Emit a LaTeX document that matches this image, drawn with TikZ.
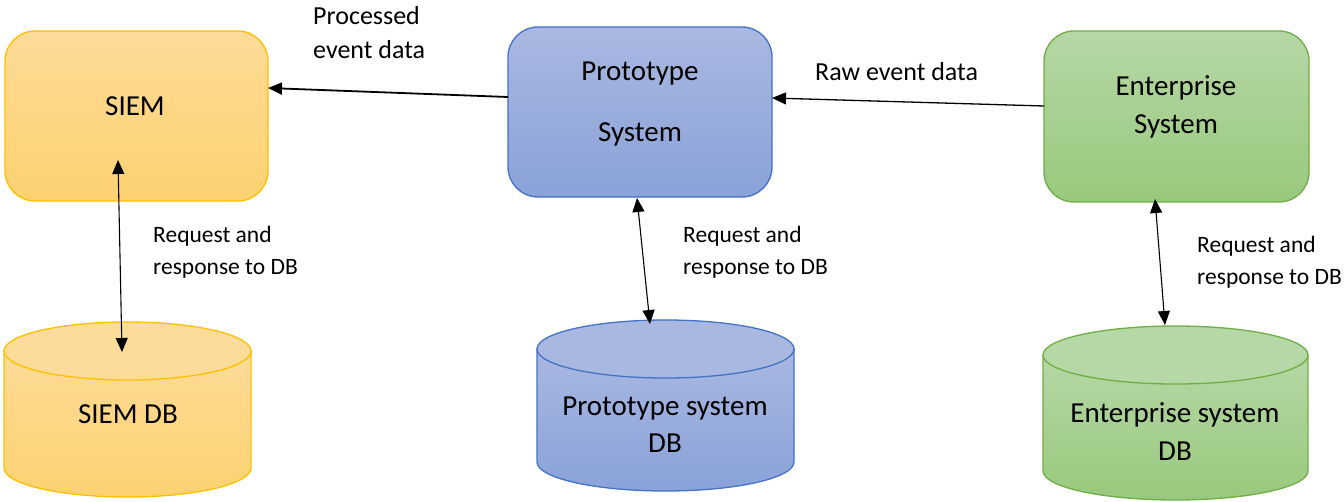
\documentclass[tikz,border=0pt]{standalone}
\usepackage{fontspec}
\setmainfont{Carlito}
\usetikzlibrary{arrows.meta,calc}
\definecolor{siemT}{RGB}{253,219,152}
\definecolor{siemB}{RGB}{252,210,112}
\definecolor{siemL}{RGB}{255,192,0}
\definecolor{protT}{RGB}{169,184,225}
\definecolor{protB}{RGB}{138,162,216}
\definecolor{protL}{RGB}{68,114,196}
\definecolor{entT}{RGB}{182,215,166}
\definecolor{entB}{RGB}{152,201,124}
\definecolor{entL}{RGB}{112,173,71}
\tikzset{
  sysbox/.style={draw=#1L, line width=1.3pt, rounded corners=30pt, top color=#1T, bottom color=#1B, inner sep=0pt},
  bigtxt/.style={font=\fontsize{29}{38}\selectfont, align=center, inner sep=0pt},
  lbltxt/.style={font=\fontsize{23.5}{32}\selectfont, align=left, inner sep=0pt, anchor=west},
  arr/.style={-{Triangle[length=14pt,width=12pt]}, line width=1.8pt},
  darr/.style={{Triangle[length=14pt,width=12pt]}-{Triangle[length=14pt,width=12pt]}, line width=1.1pt},
}
\begin{document}
\begin{tikzpicture}[x=1pt,y=-1pt]
\useasboundingbox (0,0) rectangle (1344,501);
% boxes
\node[sysbox=siem, minimum width=263pt, minimum height=170pt] (siem) at (136.5,116) {};
\node[sysbox=prot, minimum width=264pt, minimum height=170pt] (proto) at (640,112) {};
\node[sysbox=ent, minimum width=265pt, minimum height=171pt] (ent) at (1176.5,116.5) {};
\node[bigtxt] (siemtxt) at (135,106) {SIEM};
\node[bigtxt, font=\fontsize{29}{61}\selectfont] (prototxt) at (640,104) {Prototype\\System};
\node[bigtxt] (enttxt) at (1176,107) {Enterprise\\System};
% cylinders
\foreach \nm/\cx/\rx/\ty/\by in {siem/127.5/123.5/351/468, prot/665.5/128.5/349/462, ent/1175.5/132.5/355/471}{
  \path[draw=\nm L, line width=1.3pt, top color=\nm T, bottom color=\nm B]
    ({\cx-\rx},\ty) -- ({\cx-\rx},\by) arc[start angle=180,end angle=0,x radius=\rx,y radius=29] -- ({\cx+\rx},\ty) -- cycle;
  \path[draw=\nm L, line width=1.3pt, fill=\nm T] (\cx,\ty) ellipse[x radius=\rx,y radius=29];
}
\node[bigtxt] (siemdb) at (128,414) {SIEM DB};
\node[bigtxt, font=\fontsize{29}{37}\selectfont] (protdb) at (665,425) {Prototype system\\DB};
\node[bigtxt, font=\fontsize{29}{38}\selectfont] (entdb) at (1175,432) {Enterprise system\\DB};
% connector end points
\coordinate (pS) at (508,97);
\coordinate (sE) at (268,88);
\coordinate (eW) at (1044,106);
\coordinate (pE) at (772,98);
\coordinate (sB) at (118,160);
\coordinate (sdT) at (122,352);
\coordinate (pB) at (637,198);
\coordinate (pdT) at (650,324);
\coordinate (eB) at (1155,199);
\coordinate (edT) at (1165,325);
\draw[arr] (pS) -- (sE);
\draw[arr, line width=1.3pt] (eW) -- (pE);
\draw[darr] (sB) -- (sdT);
\draw[darr] (pB) -- (pdT);
\draw[darr] (eB) -- (edT);
% labels
\node[lbltxt, font=\fontsize{26}{34}\selectfont] (l1) at (313,33) {Processed\\event data};
\node[lbltxt, font=\fontsize{26}{34}\selectfont] (l2) at (815,72) {Raw event data};
\node[lbltxt] (l3) at (153,252) {Request and\\response to DB};
\node[lbltxt] (l4) at (683,252) {Request and\\response to DB};
\node[lbltxt] (l5) at (1197,262) {Request and\\response to DB};
\end{tikzpicture}
\end{document}
